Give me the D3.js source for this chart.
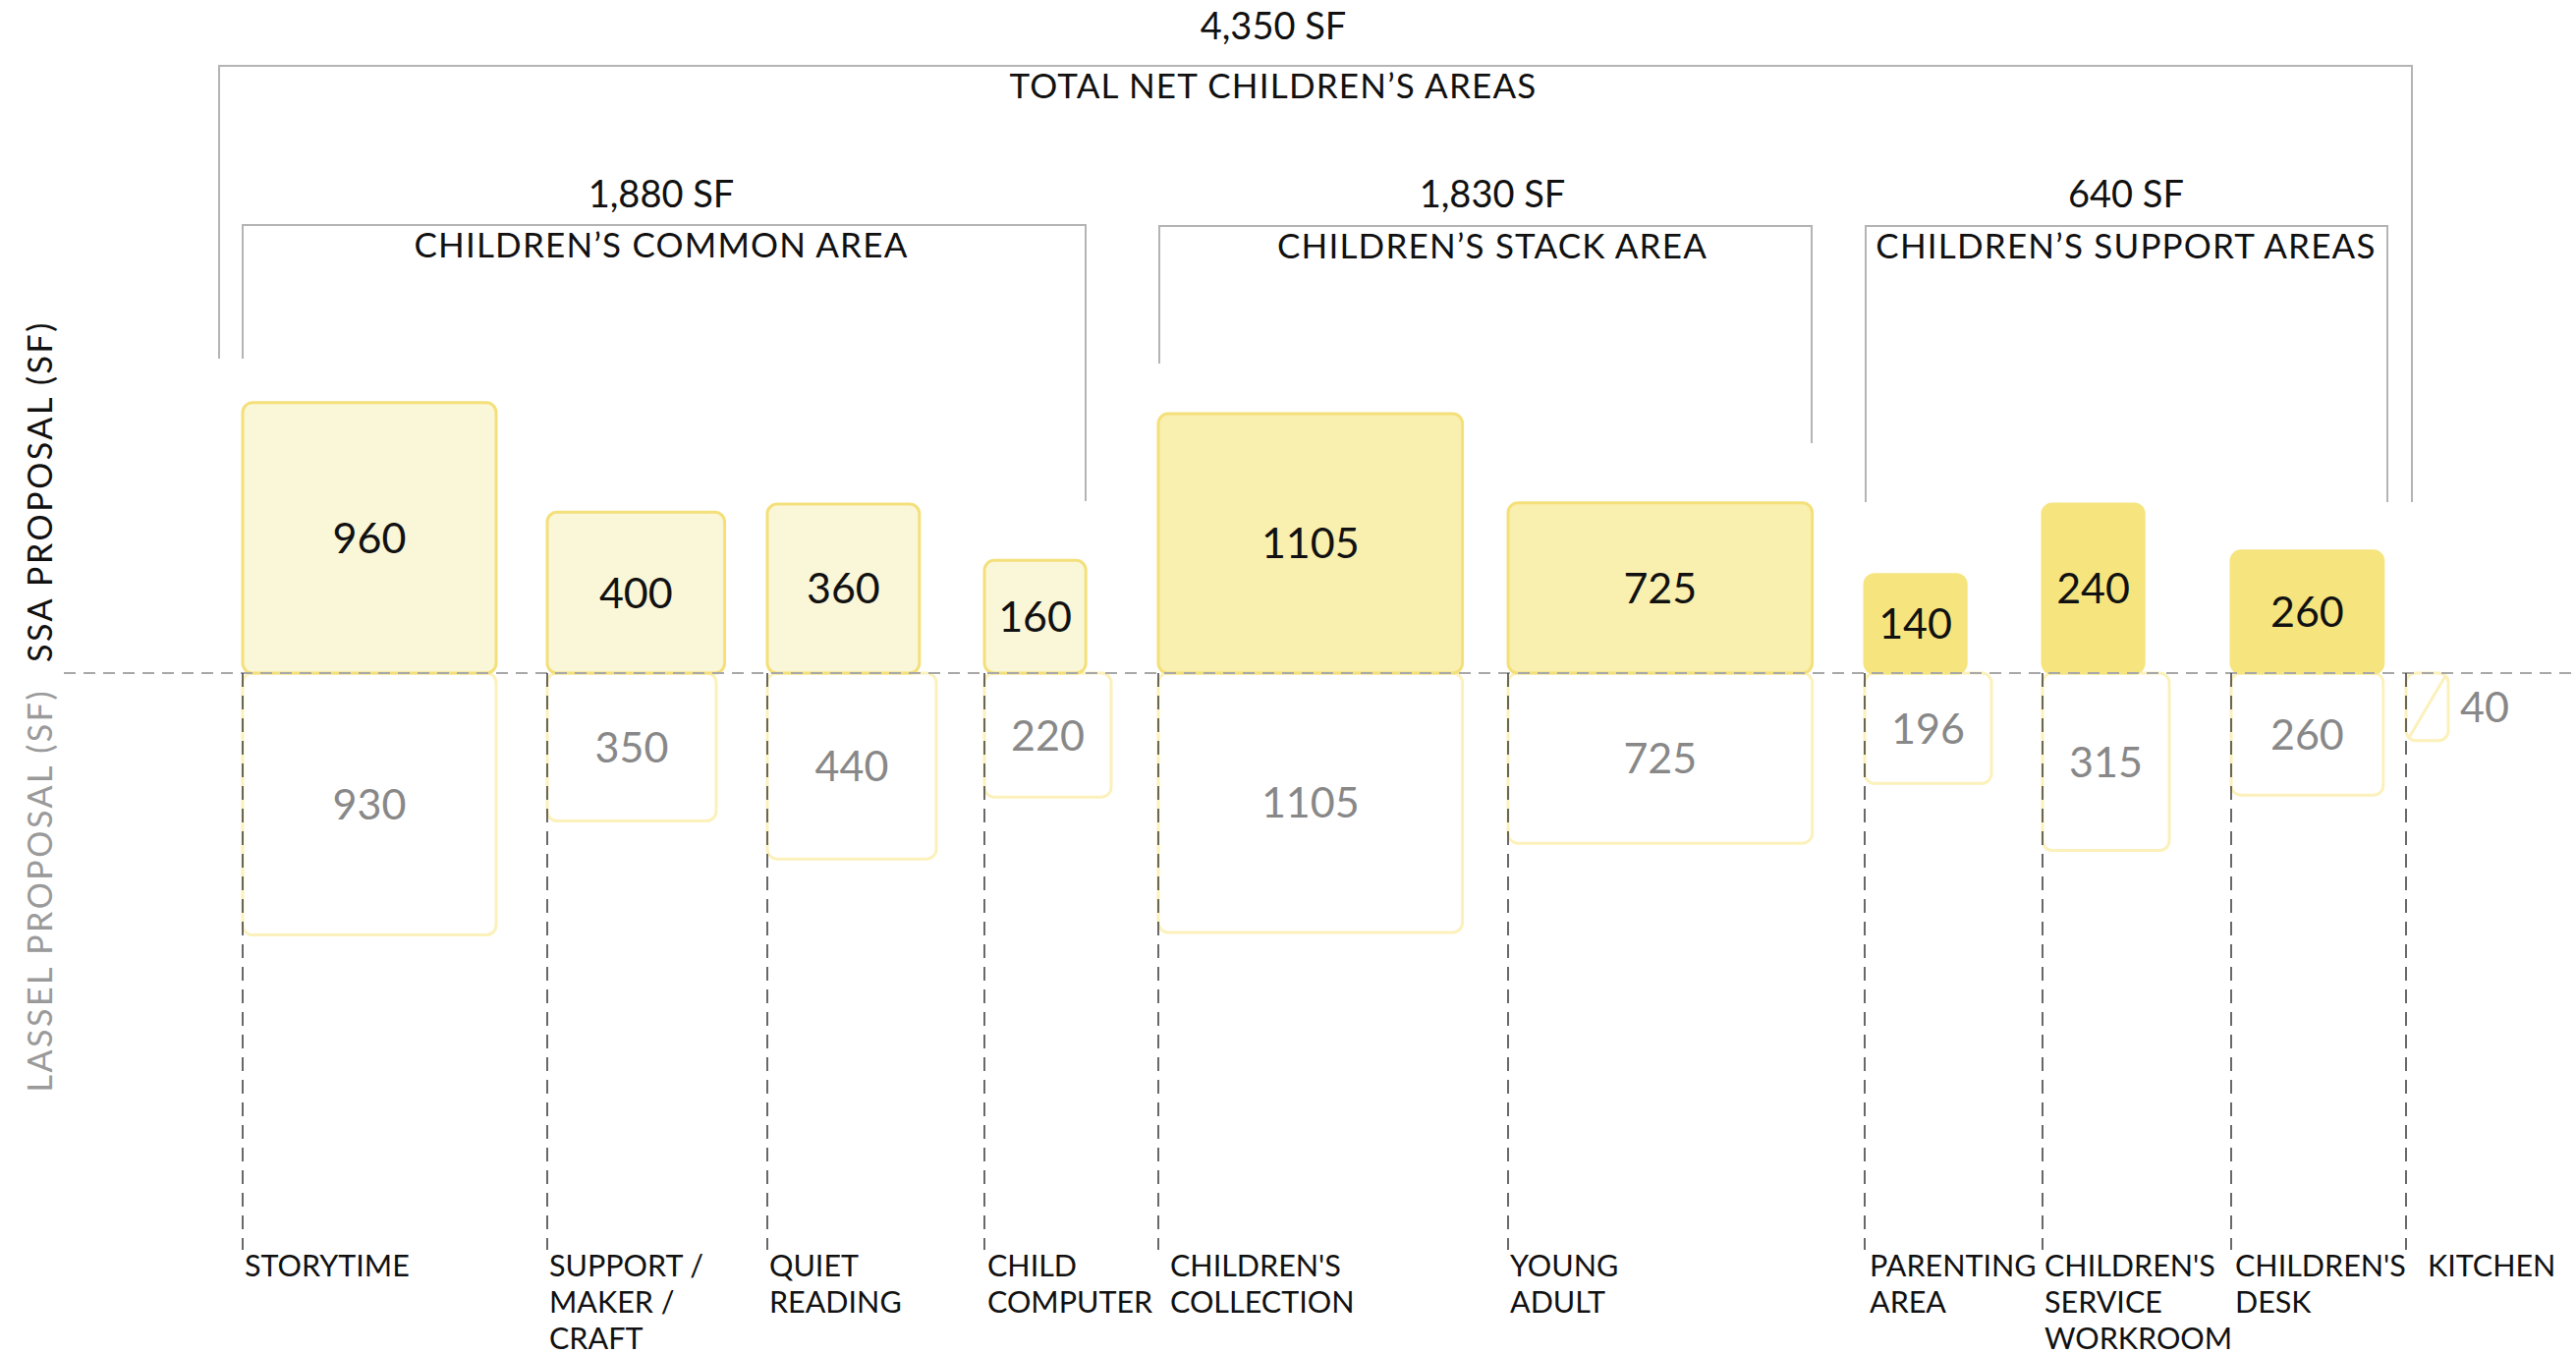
<!DOCTYPE html>
<html>
<head>
<meta charset="utf-8">
<title>Children's Areas - SSA vs Lassel</title>
<script src="https://cdn.jsdelivr.net/npm/d3@7"></script>
<style>
	body { margin: 0; background: #ffffff; }
	svg { display: block; font-family: Lato, "Open Sans", sans-serif; }
</style>
</head>
<body>
<div id="chart"></div>
<script>
//Room names, one entry per column (line breaks as in the drawing)
var categories = ["STORYTIME", "SUPPORT / MAKER / CRAFT", "QUIET READING", "CHILD COMPUTER",
	"CHILDREN'S COLLECTION", "YOUNG ADULT", "PARENTING AREA", "CHILDREN'S SERVICE WORKROOM",
	"CHILDREN'S DESK", "KITCHEN"];
var categoryLines = [["STORYTIME"], ["SUPPORT /", "MAKER /", "CRAFT"], ["QUIET", "READING"],
	["CHILD", "COMPUTER"], ["CHILDREN'S", "COLLECTION"], ["YOUNG", "ADULT"], ["PARENTING", "AREA"],
	["CHILDREN'S", "SERVICE", "WORKROOM"], ["CHILDREN'S", "DESK"], ["KITCHEN"]];

//Square feet for each room (null = no room in that proposal)
var ssaValues = [960, 400, 360, 160, 1105, 725, 140, 240, 260, null];
var lasselValues = [930, 350, 440, 220, 1105, 725, 196, 315, 260, 40];

//Room widths in feet, the depth is area / width
var ssaWidthFt = [30, 21, 18, 12, 36, 36, 12, 12, 18, null];
var lasselWidthFt = [30, 20, 20, 15, 36, 36, 15, 15, 18, 5];

//Which area group each room belongs to
var groupOf = ["common", "common", "common", "common", "stack", "stack", "support", "support", "support", "none"];
var groupKeys = ["common", "stack", "support"];
var groupTitles = ["CHILDREN\u2019S COMMON AREA", "CHILDREN\u2019S STACK AREA", "CHILDREN\u2019S SUPPORT AREAS"];
var totalTitle = "TOTAL NET CHILDREN\u2019S AREAS";

//Layout (pixels)
var W = 2622, H = 1378;
var baseY = 685;
var pxPerFt = 8.6;
var colLeft = [247, 557, 781, 1002, 1179, 1535, 1898, 2079, 2271, 2449];
var labelNudge = [2, 2, 2, 3, 12, 2, 5, 2, 4, 22];
var guideBottom = 1272;

//bracket layout: x extents, top line, leg ends and label centre
var bracketLayout = {
	total:   {x0: 223, x1: 2455, top: 67,  leftEnd: 365, rightEnd: 511, cx: 1296, valueY: 40},
	common:  {x0: 247, x1: 1105, top: 229, leftEnd: 365, rightEnd: 510, cx: 673,  valueY: 211},
	stack:   {x0: 1180, x1: 1844, top: 230, leftEnd: 370, rightEnd: 451, cx: 1519, valueY: 211},
	support: {x0: 1899, x1: 2430, top: 230, leftEnd: 511, rightEnd: 511, cx: 2164, valueY: 211}
};

//colours
var ssaFill = {common: "#faf6d8", stack: "#f9efae", support: "#f6e47e"};
var ssaStroke = {common: "#f4e07a", stack: "#f4e07a", support: "#f6e47e"};
var lasselStroke = "#fcf1bb";
var bracketColor = "#b4b4b4";

var fmt = d3.format(",");

var svg = d3.select("#chart")
	.append("svg")
	.attr("width", W)
	.attr("height", H);

//x position of each column and feet -> pixels
var x = d3.scaleOrdinal()
	.domain(categories)
	.range(colLeft);
var ft = d3.scaleLinear()
	.domain([0, 1])
	.range([0, pxPerFt]);

//Joining the arrays into one row per room
var rooms = categories.map(function(c, i) {
	return {
		name: c,
		lines: categoryLines[i],
		ssa: ssaValues[i],
		lassel: lasselValues[i],
		ssaW: ssaWidthFt[i],
		lasselW: lasselWidthFt[i],
		group: groupOf[i],
		nudge: labelNudge[i]
	};
});

//Lassel rooms, below the line
var lasselRooms = rooms.filter(function(d) { return d.lassel != null; });
svg.append("g").selectAll("rect")
	.data(lasselRooms)
	.enter().append("rect")
	.attr("x", function(d) { return x(d.name); })
	.attr("y", baseY)
	.attr("width", function(d) { return ft(d.lasselW); })
	.attr("height", function(d) { return ft(d.lassel / d.lasselW); })
	.attr("rx", 10)
	.attr("fill", "#ffffff")
	.attr("stroke", lasselStroke)
	.attr("stroke-width", 3);

//slash through the kitchen box
svg.append("g").selectAll("line")
	.data(lasselRooms.filter(function(d) { return d.ssa == null; }))
	.enter().append("line")
	.attr("x1", function(d) { return x(d.name) + 3; })
	.attr("y1", function(d) { return baseY + ft(d.lassel / d.lasselW) - 3; })
	.attr("x2", function(d) { return x(d.name) + ft(d.lasselW) - 3; })
	.attr("y2", baseY + 3)
	.attr("stroke", lasselStroke)
	.attr("stroke-width", 3);

//SSA rooms, above the line
var ssaRooms = rooms.filter(function(d) { return d.ssa != null; });
svg.append("g").selectAll("rect")
	.data(ssaRooms)
	.enter().append("rect")
	.attr("x", function(d) { return x(d.name); })
	.attr("y", function(d) { return baseY - ft(d.ssa / d.ssaW); })
	.attr("width", function(d) { return ft(d.ssaW); })
	.attr("height", function(d) { return ft(d.ssa / d.ssaW); })
	.attr("rx", 10)
	.attr("fill", function(d) { return ssaFill[d.group]; })
	.attr("stroke", function(d) { return ssaStroke[d.group]; })
	.attr("stroke-width", 3);

//dashed base line
svg.append("line")
	.attr("x1", 65).attr("x2", W)
	.attr("y1", baseY).attr("y2", baseY)
	.attr("stroke", "#a8a8a8")
	.attr("stroke-width", 2)
	.attr("stroke-dasharray", "12,8");

//dashed guides down to the room names
svg.append("g").selectAll("line")
	.data(rooms)
	.enter().append("line")
	.attr("x1", function(d) { return x(d.name); })
	.attr("x2", function(d) { return x(d.name); })
	.attr("y1", baseY)
	.attr("y2", guideBottom)
	.attr("stroke", "#444444")
	.attr("stroke-width", 1.6)
	.attr("stroke-dasharray", "14,9");

//numbers in the boxes
svg.append("g").selectAll("text")
	.data(ssaRooms)
	.enter().append("text")
	.attr("x", function(d) { return x(d.name) + ft(d.ssaW) / 2; })
	.attr("y", function(d) { return baseY - ft(d.ssa / d.ssaW) / 2; })
	.attr("dy", "0.36em")
	.attr("text-anchor", "middle")
	.attr("font-size", 43)
	.attr("fill", "#111111")
	.text(function(d) { return d.ssa; });

svg.append("g").selectAll("text")
	.data(lasselRooms)
	.enter().append("text")
	.attr("x", function(d) {
		//kitchen box is too small, number goes beside it
		if (d.ssa == null) return x(d.name) + ft(d.lasselW) + 12;
		return x(d.name) + ft(d.lasselW) / 2;
	})
	.attr("y", function(d) { return baseY + ft(d.lassel / d.lasselW) / 2; })
	.attr("dy", "0.36em")
	.attr("text-anchor", function(d) { return d.ssa == null ? "start" : "middle"; })
	.attr("font-size", 43)
	.attr("fill", "#888888")
	.text(function(d) { return d.lassel; });

//room names under the guides
var names = svg.append("g").selectAll("text")
	.data(rooms)
	.enter().append("text")
	.attr("x", function(d) { return x(d.name) + d.nudge; })
	.attr("y", 1299)
	.attr("font-size", 30.5)
	.attr("fill", "#111111");
names.selectAll("tspan")
	.data(function(d) { return d.lines.map(function(l) { return {line: l, x: x(d.name) + d.nudge}; }); })
	.enter().append("tspan")
	.attr("x", function(t) { return t.x; })
	.attr("dy", function(t, i) { return i == 0 ? 0 : 37; })
	.text(function(t) { return t.line; });

//brackets with their totals
function drawBracket(b, value, title) {
	var g = svg.append("g");
	g.append("path")
		.attr("d", "M" + b.x0 + "," + b.leftEnd + "V" + b.top + "H" + b.x1 + "V" + b.rightEnd)
		.attr("fill", "none")
		.attr("stroke", bracketColor)
		.attr("stroke-width", 2);
	g.append("text")
		.attr("x", b.cx)
		.attr("y", b.valueY)
		.attr("text-anchor", "middle")
		.attr("font-size", 38)
		.attr("fill", "#111111")
		.text(fmt(value) + " SF");
	g.append("text")
		.attr("x", b.cx)
		.attr("y", b.top + 33)
		.attr("text-anchor", "middle")
		.attr("font-size", 35)
		.attr("letter-spacing", 1.2)
		.attr("fill", "#111111")
		.text(title);
}

groupKeys.forEach(function(k, i) {
	var sum = d3.sum(rooms.filter(function(d) { return d.group == k; }), function(d) { return d.ssa; });
	drawBracket(bracketLayout[k], sum, groupTitles[i]);
});
drawBracket(bracketLayout.total, d3.sum(ssaValues), totalTitle);

//side labels
svg.append("text")
	.attr("transform", "translate(53," + (baseY - 11) + ") rotate(-90)")
	.attr("text-anchor", "start")
	.attr("font-size", 34)
	.attr("letter-spacing", 2.5)
	.attr("fill", "#111111")
	.text("SSA PROPOSAL (SF)");
svg.append("text")
	.attr("transform", "translate(53," + (baseY + 16) + ") rotate(-90)")
	.attr("text-anchor", "end")
	.attr("font-size", 34)
	.attr("letter-spacing", 2.5)
	.attr("fill", "#9a9a9a")
	.text("LASSEL PROPOSAL (SF)");
</script>
</body>
</html>
